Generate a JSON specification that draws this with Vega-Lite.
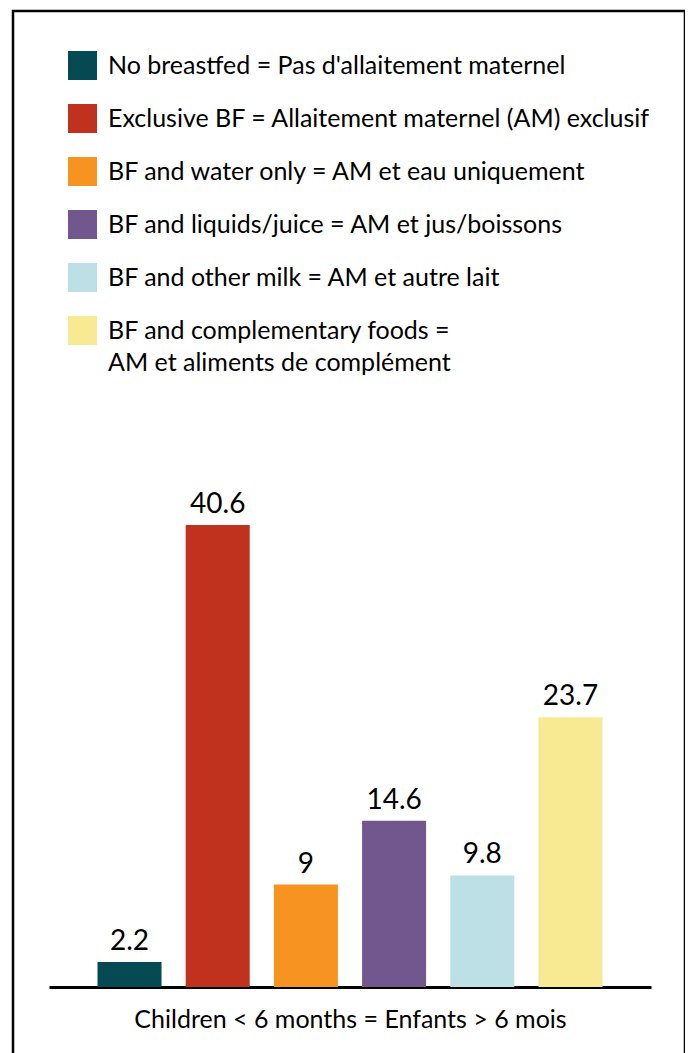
{
  "$schema": "https://vega.github.io/schema/vega-lite/v6.json",
  "autosize": "none",
  "padding": {"left": 13, "top": 11, "right": 0, "bottom": 0},
  "width": 672,
  "height": 1046,
  "background": "white",
  "config": {
    "view": {"stroke": "black", "strokeWidth": 2.5},
    "font": "Lato",
    "style": {"guide-label": {"lineHeight": 32}}
  },
  "data": {
    "values": [
      {"category": "No breastfed = Pas d'allaitement maternel", "value": 2.2},
      {"category": "Exclusive BF = Allaitement maternel (AM) exclusif", "value": 40.6},
      {"category": "BF and water only = AM et eau uniquement", "value": 9},
      {"category": "BF and liquids/juice = AM et jus/boissons", "value": 14.6},
      {"category": "BF and other milk = AM et autre lait", "value": 9.8},
      {"category": "BF and complementary foods = AM et aliments de complément", "value": 23.7}
    ]
  },
  "encoding": {
    "x": {
      "field": "category",
      "type": "nominal",
      "sort": null,
      "scale": {"range": [36, 638], "paddingInner": 0.274, "paddingOuter": 0.55},
      "axis": {
        "title": "Children < 6 months = Enfants > 6 mois",
        "titleFont": "Lato",
        "titleFontSize": 25,
        "titleFontWeight": "normal",
        "titleColor": "black",
        "titlePadding": 20,
        "labels": false,
        "ticks": false,
        "domainColor": "black",
        "domainWidth": 3,
        "offset": -70
      }
    },
    "y": {
      "field": "value",
      "type": "quantitative",
      "scale": {"domain": [0, 85.77], "range": [976, 0], "nice": false, "zero": true},
      "axis": null
    }
  },
  "layer": [
    {
      "mark": {"type": "bar"},
      "encoding": {
        "y2": {"datum": 0},
        "color": {
          "field": "category",
          "type": "nominal",
          "scale": {
            "domain": [
              "No breastfed = Pas d'allaitement maternel",
              "Exclusive BF = Allaitement maternel (AM) exclusif",
              "BF and water only = AM et eau uniquement",
              "BF and liquids/juice = AM et jus/boissons",
              "BF and other milk = AM et autre lait",
              "BF and complementary foods = AM et aliments de complément"
            ],
            "range": ["#054a52", "#c0321e", "#f79421", "#72578e", "#bddfe6", "#f8e993"]
          },
          "legend": {
            "orient": "none",
            "legendX": 55,
            "legendY": 40,
            "title": null,
            "direction": "vertical",
            "symbolType": "square",
            "symbolSize": 841,
            "symbolStrokeWidth": 0,
            "symbolOpacity": 1,
            "labelFont": "Lato",
            "labelFontSize": 25,
            "labelColor": "black",
            "labelOffset": 11,
            "labelLimit": 700,
            "rowPadding": 24,
            "labelExpr": "datum.label == 'BF and complementary foods = AM et aliments de complément' ? ['BF and complementary foods =', 'AM et aliments de complément'] : datum.label"
          }
        }
      }
    },
    {
      "mark": {"type": "text", "baseline": "alphabetic", "dy": -12, "fontSize": 28, "font": "Lato", "color": "black"},
      "encoding": {
        "text": {"field": "value", "type": "quantitative"}
      }
    }
  ]
}
